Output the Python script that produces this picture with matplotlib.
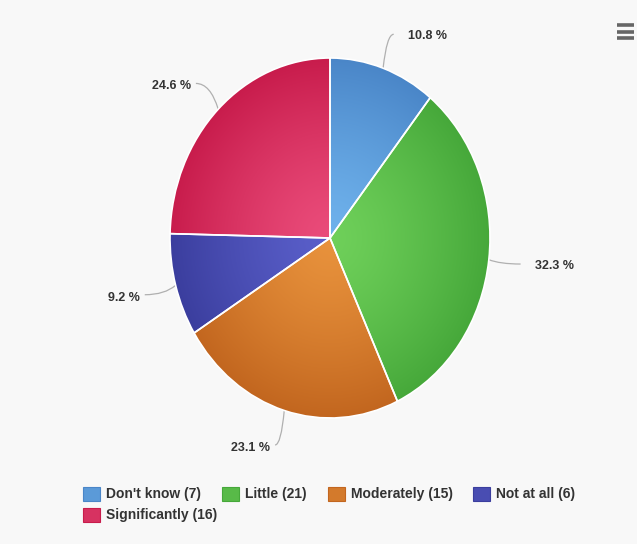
import numpy as np
import matplotlib
matplotlib.use("Agg")
import matplotlib.pyplot as plt
from matplotlib.path import Path
from matplotlib.patches import PathPatch, Rectangle
from matplotlib import font_manager

# Survey answers
categories = ["Don't know", "Little", "Moderately", "Not at all", "Significantly"]
counts = [7, 21, 15, 6, 16]
center_colors = ["#6fb2ec", "#6fd05a", "#e8923c", "#5a5fca", "#ea4c7a"]
edge_colors = ["#4a86c8", "#46a83a", "#c2661f", "#3b3e9e", "#c81c4c"]

W, H = 637, 544
BG = "#f8f8f8"
TXT = "#333333"

fam = "Liberation Sans"
names = {f.name for f in font_manager.fontManager.ttflist}
if fam not in names:
    fam = "DejaVu Sans"

fig = plt.figure(figsize=(W / 100, H / 100), dpi=100, facecolor=BG)

# overlay in pixel coordinates for labels, connectors and legend
ov = fig.add_axes([0, 0, 1, 1])
ov.set_xlim(0, W)
ov.set_ylim(H, 0)
ov.axis("off")
ov.patch.set_alpha(0)

# pie area (slightly taller than wide)
cx, cy, rx, ry = 330, 238, 160, 180
pax = fig.add_axes([(cx - rx) / W, 1 - (cy + ry) / H, 2 * rx / W, 2 * ry / H])
pax.patch.set_alpha(0)
wedges, _ = pax.pie(counts, startangle=90, counterclock=False, radius=1,
                    wedgeprops=dict(edgecolor="#ffffff", linewidth=1.2, facecolor="none"))

n = 500
xs = np.linspace(-1, 1, n)
X, Y = np.meshgrid(xs, xs)
R = np.clip(np.sqrt(X ** 2 + Y ** 2), 0, 1)[..., None]
for w, c0, c1 in zip(wedges, center_colors, edge_colors):
    a = np.array(matplotlib.colors.to_rgb(c0))
    b = np.array(matplotlib.colors.to_rgb(c1))
    img = a + (b - a) * R ** 1.3
    im = pax.imshow(img, extent=[-1, 1, -1, 1], origin="lower", aspect="auto",
                    interpolation="bilinear", zorder=0.5)
    im.set_clip_path(w)
    w.set_zorder(2)
pax.set_xlim(-1, 1)
pax.set_ylim(-1, 1)
pax.set_aspect("auto")
pax.axis("off")

total = sum(counts)


def pt(theta, f):
    t = np.deg2rad(theta)
    return cx + f * rx * np.cos(t), cy - f * ry * np.sin(t)


for w, v in zip(wedges, counts):
    mid = (w.theta1 + w.theta2) / 2
    x0, y0 = pt(mid, 1.0)
    x2, y2 = pt(mid, 1.2)
    xc, _ = pt(mid, 1.07)
    path = Path([(x0, y0), (xc, y2), (x2, y2)], [Path.MOVETO, Path.CURVE3, Path.CURVE3])
    ov.add_patch(PathPatch(path, fc="none", ec="#b0b0b0", lw=0.9))
    right = np.cos(np.deg2rad(mid)) >= 0
    label = f"{v / total * 100:.1f} %"
    if right:
        ov.text(x2 + 14, y2 + 2, label, ha="left", va="center", fontsize=9,
                fontweight="bold", color=TXT, family=fam)
    else:
        ov.text(x2 - 5, y2 + 3, label, ha="right", va="center", fontsize=9,
                fontweight="bold", color=TXT, family=fam)

# legend
leg_sq = [(83, 494), (222, 494), (328, 494), (473, 494), (83, 515)]
for (lx, ly), name, v, c0, c1 in zip(leg_sq, categories, counts, center_colors, edge_colors):
    a = np.array(matplotlib.colors.to_rgb(c0))
    b = np.array(matplotlib.colors.to_rgb(c1))
    ov.add_patch(Rectangle((lx, ly - 7), 17, 14, fc=tuple(0.45 * a + 0.55 * b), ec=c1, lw=0.8))
    ov.text(lx + 23, ly, f"{name} ({v})", ha="left", va="center", fontsize=10,
            fontweight="bold", color=TXT, family=fam)

# context menu icon
for yy in (25, 31.5, 38):
    ov.plot([617, 634], [yy, yy], color="#666666", lw=2.6, solid_capstyle="butt")

fig.savefig("out.png", dpi=100, facecolor=BG)
